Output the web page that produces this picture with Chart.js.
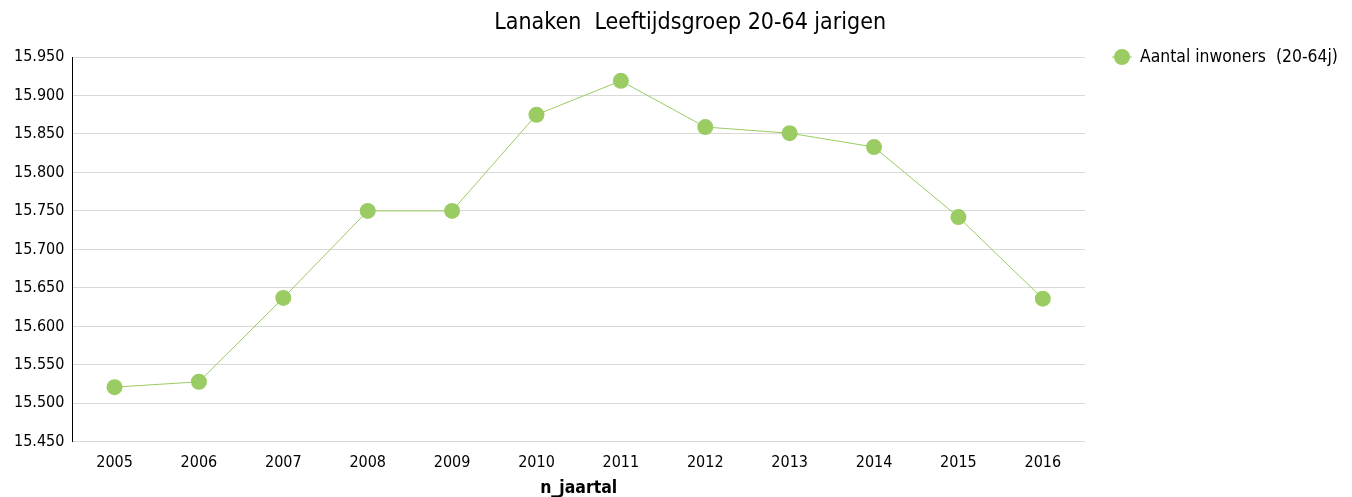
<!DOCTYPE html>
<html>
<head>
    <title>Lanaken Leeftijdsgroep 20-64 jarigen</title>
    <script src="https://cdn.jsdelivr.net/npm/chart.js"></script>
    <style>
        body { margin: 0; background: #fff; }
        #wrap { width: 1352px; height: 497px; }
    </style>
</head>
<body>

<div id="wrap">
    <canvas id="lineChart" width="1352" height="497"></canvas>
</div>

<script>
    const years = ["2005", "2006", "2007", "2008", "2009", "2010", "2011", "2012", "2013", "2014", "2015", "2016"];
    const inwoners = [15521, 15528, 15637, 15750, 15750, 15875, 15919, 15859, 15851, 15833, 15742, 15636];
    const yMin = 15450;
    const yMax = 15950;
    const yStep = 50;

    const chartTitle = 'Lanaken  Leeftijdsgroep 20-64 jarigen';
    const fontFamily = "'DejaVu Sans Condensed', 'DejaVu Sans', sans-serif";
    const green = '#9bcb63';

    Chart.defaults.font.family = fontFamily;
    Chart.defaults.color = '#000';

    // dutch thousands separator: 15950 -> 15.950
    function dots(v) {
        return String(v).replace(/\B(?=(\d{3})+(?!\d))/g, '.');
    }

    // title over plot + legend, legend to the right of the plot, top aligned
    const headerAndLegend = {
        id: 'headerAndLegend',
        afterDraw(chart) {
            const ctx = chart.ctx;
            const area = chart.chartArea;
            const ds = chart.data.datasets[0];
            ctx.save();

            ctx.fillStyle = '#000';
            ctx.font = '23px ' + fontFamily;
            ctx.textAlign = 'center';
            ctx.textBaseline = 'middle';
            ctx.fillText(chartTitle, (area.left + chart.width - 44) / 2, 23);

            const x = area.right + 37;
            const y = area.top;
            ctx.fillStyle = ds.pointBackgroundColor;
            ctx.beginPath();
            ctx.arc(x, y, 8, 0, Math.PI * 2);
            ctx.fill();
            ctx.strokeStyle = ds.borderColor;
            ctx.lineWidth = 1;
            ctx.beginPath();
            ctx.moveTo(x - 10, y);
            ctx.lineTo(x + 10, y);
            ctx.stroke();
            ctx.fillStyle = '#000';
            ctx.font = '17.4px ' + fontFamily;
            ctx.textAlign = 'left';
            ctx.fillText(ds.label, x + 18, y);
            ctx.restore();
        }
    };

    new Chart(document.getElementById('lineChart'), {
        type: 'line',
        data: {
            labels: years,
            datasets: [{
                label: 'Aantal inwoners  (20-64j)',
                data: inwoners,
                borderColor: green,
                borderWidth: 1,
                backgroundColor: green,
                pointBackgroundColor: green,
                pointBorderWidth: 0,
                pointRadius: 8,
                pointHoverRadius: 8,
                tension: 0,
                fill: false
            }]
        },
        options: {
            responsive: false,
            animation: false,
            devicePixelRatio: 1,
            layout: {
                padding: { left: 6, right: 267, top: 57, bottom: 0 }
            },
            plugins: {
                legend: { display: false },
                tooltip: { enabled: false },
                title: { display: false }
            },
            scales: {
                x: {
                    offset: true,
                    grid: { display: false, drawTicks: false },
                    border: { display: false },
                    ticks: { font: { size: 16 }, padding: 11 },
                    title: {
                        display: true,
                        text: 'n_jaartal',
                        font: { size: 17.5, weight: 'bold' },
                        padding: { top: -5, bottom: -2 }
                    }
                },
                y: {
                    min: yMin,
                    max: yMax,
                    grid: { color: '#d9d9d9', drawTicks: false },
                    border: { display: true, color: '#000', width: 1 },
                    ticks: {
                        stepSize: yStep,
                        padding: 8,
                        font: { size: 16 },
                        callback: v => dots(v)
                    }
                }
            }
        },
        plugins: [headerAndLegend]
    });
</script>

</body>
</html>
